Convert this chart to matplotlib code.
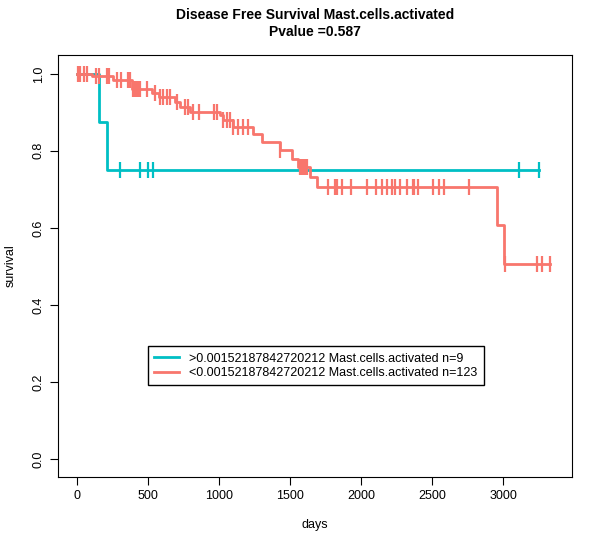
import matplotlib.pyplot as plt
import numpy as np

plt.rcParams['font.family'] = ['Liberation Sans', 'DejaVu Sans']

# step curves: event times and survival after each step
red_times = [0, 105, 254, 387, 528, 578, 690, 725, 796, 1007, 1028, 1099, 1239, 1303,
             1430, 1514, 1556, 1641, 1688, 2956, 3007]
red_surv = [1.0, 0.995, 0.983, 0.961, 0.950, 0.941, 0.928, 0.914, 0.902, 0.894, 0.880,
            0.863, 0.844, 0.822, 0.801, 0.779, 0.758, 0.733, 0.707, 0.608, 0.506]
red_end = 3331
red_cens_px1 = [55, 60, 72, 82, 108, 118, 142, 148, 170, 183, 205, 210, 220, 225, 230, 235,
                240, 262, 285, 300, 310, 320, 330, 350, 375, 385, 398, 418, 462, 470, 490,
                500, 510, 520, 535, 550, 565, 660, 720, 725, 730, 735, 740]
red_cens_px2 = [175, 195, 200, 215, 242, 290, 318, 335, 352, 365, 375, 390, 410, 428, 432,
                443, 488, 507, 522, 597, 705, 800, 815, 840]
red_cens = [round((60 + z / 3 - 77) / 0.142) for z in red_cens_px1] + \
           [round((270 + z / 3 - 77) / 0.142) for z in red_cens_px2]

cyan_times = [0, 155, 209]
cyan_surv = [1.0, 0.875, 0.75]
cyan_end = 3254
cyan_cens = [14, 303, 444, 502, 537, 3113, 3254]

RED = '#F8766D'
CYAN = '#00BFC4'


def surv_at(times, surv, t):
    idx = np.searchsorted(times, t, side='right') - 1
    return surv[max(idx, 0)]


fig = plt.figure(figsize=(6, 5.47), dpi=100)
ax = fig.add_axes([0.0967, 0.128, 0.8567, 0.7715])

for times, surv, end, cens, col, lab in [
        (cyan_times, cyan_surv, cyan_end, cyan_cens, CYAN,
         '>0.00152187842720212 Mast.cells.activated n=9'),
        (red_times, red_surv, red_end, red_cens, RED,
         '<0.00152187842720212 Mast.cells.activated n=123')]:
    xs = list(times) + [end]
    ys = list(surv) + [surv[-1]]
    ax.step(xs, ys, where='post', color=col, lw=2, label=lab)
    cy = [surv_at(times, surv, t) for t in cens]
    ax.plot(cens, cy, ls='none', marker='|', ms=11, mew=1.6, color=col)

ax.set_xlim(-134, 3486)
ax.set_ylim(-0.047, 1.049)
ax.set_xticks([0, 500, 1000, 1500, 2000, 2500, 3000])
ax.set_yticks([0.0, 0.2, 0.4, 0.6, 0.8, 1.0])
ax.set_yticklabels(['0.0', '0.2', '0.4', '0.6', '0.8', '1.0'], rotation=90, va='center')
ax.tick_params(labelsize=9, direction='out', length=6)
ax.set_xlabel('days', fontsize=9, labelpad=12)
ax.set_ylabel('survival', fontsize=9, labelpad=12)
ax.set_title('Disease Free Survival Mast.cells.activated\nPvalue =0.587',
             fontsize=10, fontweight='bold', pad=14)
ax.legend(loc='center', bbox_to_anchor=(0.502, 0.263), fontsize=9, frameon=True,
          fancybox=False, edgecolor='black', framealpha=1, handlelength=2.0,
          borderpad=0.5, labelspacing=0.2)
fig.savefig('out.png', dpi=100)
